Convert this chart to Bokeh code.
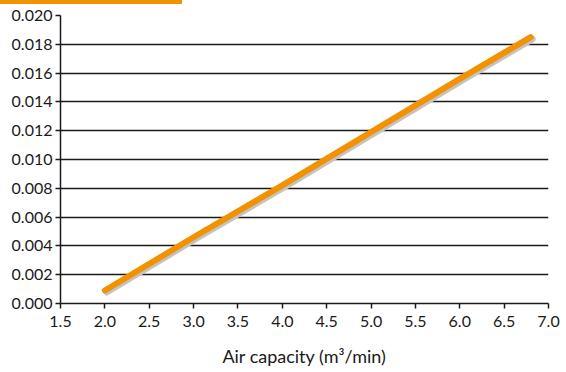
from bokeh.plotting import figure
from bokeh.models import FixedTicker, PrintfTickFormatter, Range1d, Div
from bokeh.layouts import column
from bokeh.embed import file_html
from bokeh.resources import INLINE

# Data
air_capacity = [2.0, 3.0, 4.0, 5.0, 6.0, 6.8]
values = [0.0009, 0.0046, 0.0082, 0.0119, 0.0156, 0.0185]
x_ticks = [1.5, 2.0, 2.5, 3.0, 3.5, 4.0, 4.5, 5.0, 5.5, 6.0, 6.5, 7.0]
y_ticks = [0.000, 0.002, 0.004, 0.006, 0.008, 0.010, 0.012, 0.014, 0.016, 0.018, 0.020]
x_title = "Air capacity (m³/min)"

FONT = "Lato"
ORANGE = "#f39200"
SHADOW = "#c4c4c4"
INK = "#1a1a1a"

BAR_H = 4
W, H = 566, 372 - BAR_H
p = figure(width=W, height=H, output_backend="svg", toolbar_location=None,
           x_range=Range1d(1.5, 7.0), y_range=Range1d(0.0, 0.020),
           min_border_left=60, min_border_right=18, min_border_top=15 - BAR_H,
           min_border_bottom=69)
p.outline_line_color = None
p.background_fill_color = "white"

# shadow line offset slightly down-right (pixel offset converted into data units)
px_x = (7.0 - 1.5) / 488.0
px_y = 0.020 / 288.0
p.line([v + 2 * px_x for v in air_capacity], [v - 2 * px_y for v in values],
       line_color=SHADOW, line_width=6, line_cap="round")
p.line(air_capacity, values, line_color=ORANGE, line_width=6, line_cap="round")

# x axis
xa = p.xaxis[0]
xa.ticker = FixedTicker(ticks=x_ticks)
xa.formatter = PrintfTickFormatter(format="%.1f")
xa.axis_label = x_title
xa.axis_label_text_font = FONT
xa.axis_label_text_font_style = "normal"
xa.axis_label_text_font_size = "18px"
xa.axis_label_text_color = INK
xa.axis_label_standoff = 15
xa.major_label_text_font = FONT
xa.major_label_text_font_size = "16px"
xa.major_label_text_color = INK
xa.major_label_standoff = 7
xa.axis_line_color = INK
xa.axis_line_width = 1.5
xa.major_tick_line_color = INK
xa.major_tick_line_width = 1.5
xa.major_tick_in = 0
xa.major_tick_out = 5
xa.minor_tick_line_color = None

ya = p.yaxis[0]
ya.ticker = FixedTicker(ticks=y_ticks)
ya.formatter = PrintfTickFormatter(format="%.3f")
ya.major_label_text_font = FONT
ya.major_label_text_font_size = "16px"
ya.major_label_text_color = INK
ya.major_label_standoff = 3
ya.axis_line_color = INK
ya.axis_line_width = 1.5
ya.major_tick_line_color = INK
ya.major_tick_line_width = 1.5
ya.major_tick_in = 0
ya.major_tick_out = 5
ya.minor_tick_line_color = None

p.xgrid.grid_line_color = None
p.ygrid.ticker = FixedTicker(ticks=y_ticks)
p.ygrid.grid_line_color = INK
p.ygrid.grid_line_width = 1.3
p.ygrid.level = "underlay"

# decorative orange bar at top-left
bar = Div(text="", width=182, height=BAR_H, margin=0,
          styles={"background-color": ORANGE, "padding": "0", "margin": "0"})

layout = column(bar, p, spacing=0)

open("out.html", "w").write(file_html(layout, INLINE))
